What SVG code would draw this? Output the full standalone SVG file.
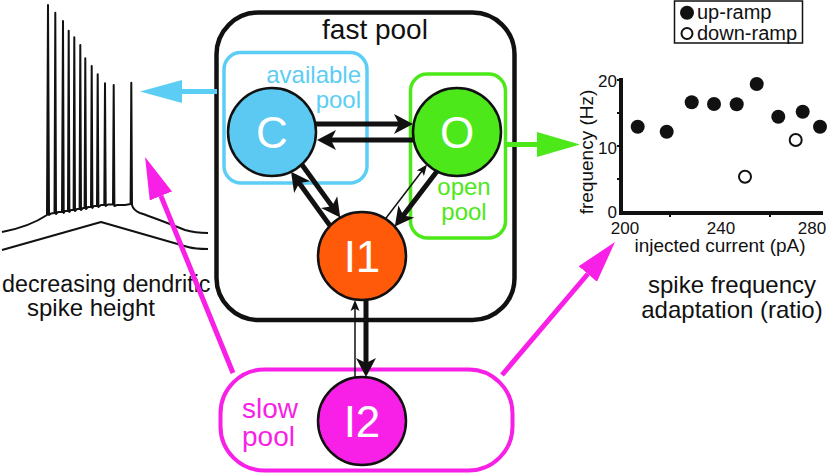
<svg xmlns="http://www.w3.org/2000/svg" width="827" height="475" viewBox="0 0 827 475">
<style>
text{font-family:"Liberation Sans",Arial,sans-serif}
.node{stroke:#111;stroke-width:2.5}
.nl{fill:#fff;font-size:44px;text-anchor:middle}
.thick{stroke:#111;stroke-width:5;fill:none}
.thin{stroke:#111;stroke-width:1.5;fill:none}
.trace{stroke:#111;stroke-width:2;fill:none;stroke-linejoin:round}
.lbl{fill:#111;font-size:24px}
.ax{fill:#111;font-size:17px}
.mag{stroke:#F81FE6}
</style>
<defs>
<marker id="ah" markerUnits="userSpaceOnUse" markerWidth="24" markerHeight="24" viewBox="-10 -12 24 24" refX="0" refY="0" orient="auto"><path d="M12,0 L-7,-10 L-2,0 L-7,10 Z" fill="#111"/></marker>
<marker id="ahs" markerUnits="userSpaceOnUse" markerWidth="14" markerHeight="12" viewBox="-6 -6 14 12" refX="0" refY="0" orient="auto"><path d="M7,0 L-4,-4.5 L-1.5,0 L-4,4.5 Z" fill="#111"/></marker>
<marker id="bigC" markerUnits="userSpaceOnUse" markerWidth="44" markerHeight="26" viewBox="0 -13 44 26" refX="0" refY="0" orient="auto"><path d="M42,0 L0,-11.5 L0,11.5 Z" fill="#5CCDF4"/></marker>
<marker id="bigG" markerUnits="userSpaceOnUse" markerWidth="44" markerHeight="28" viewBox="0 -14 44 28" refX="0" refY="0" orient="auto"><path d="M43,0 L0,-12.5 L0,12.5 Z" fill="#4CE81A"/></marker>
<marker id="bigM" markerUnits="userSpaceOnUse" markerWidth="44" markerHeight="28" viewBox="0 -14 44 28" refX="0" refY="0" orient="auto"><path d="M42,0 L0,-12 L0,12 Z" fill="#F81FE6"/></marker>
</defs>

<!-- voltage traces -->
<g id="traces">
<path class="trace" d="M2,232 C18,229 35,223 47,215 L48,5 L49,215 L51,213.5 L54.5,213 L55.3,12.7 L56,214 L58,212 L62,212 L63,21 L63.7,213 L65,211 L68,211 L68.7,30.7 L69.4,212 L71,210 L73.6,210 L74.3,37.3 L75,211 L77,209 L79.6,209 L80.3,45 L81,210 L83,208 L84.6,208 L85.3,58.3 L86,209 L88,207 L91,207 L91.7,66 L92.4,208 L94,206 L97,206 L97.7,74.3 L98.4,207 L101,205 L104.3,205 L105,83.3 L105.7,206 L108,204.5 L113,204.5 L113.7,85 L114.4,206 L117,205 L125,205 L130.6,204 L131.3,82.7 L132,205 C133,209 135,211 140,213 C155,218 170,224 185,230 C195,233 200,233 208,233"/>
<path class="trace" d="M2,250 L101,222 L188,247 C195,249 200,249 208,249"/>
</g>
<text x="2" y="292" font-size="23.3" fill="#111">decreasing dendritic</text>
<text class="lbl" x="91" y="316" text-anchor="middle">spike height</text>

<!-- fast pool -->
<g id="fastpool">
<rect x="216.5" y="12.5" width="298" height="307.5" rx="42" fill="none" stroke="#111" stroke-width="4.5"/>
<text x="375" y="39" font-size="28" text-anchor="middle" fill="#111">fast pool</text>
</g>
<g id="availablepool">
<rect x="224" y="52.5" width="143" height="130.5" rx="17" fill="none" stroke="#5CCDF4" stroke-width="3.5"/>
<text x="361" y="83" font-size="24" text-anchor="end" fill="#5CCDF4">available</text>
<text x="361" y="108" font-size="24" text-anchor="end" fill="#5CCDF4">pool</text>
</g>
<g id="openpool">
<rect x="410.5" y="74" width="95" height="164" rx="17" fill="none" stroke="#4CE81A" stroke-width="3.5"/>
<text x="464" y="195" font-size="24" text-anchor="middle" fill="#4CE81A">open</text>
<text x="464" y="220" font-size="24" text-anchor="middle" fill="#4CE81A">pool</text>
</g>
<g id="slowpool">
<rect x="220.5" y="369.5" width="292" height="101" rx="44" fill="none" stroke="#F81FE6" stroke-width="4"/>
<text x="242" y="418" font-size="28" fill="#F81FE6">slow</text>
<text x="242" y="446" font-size="28" fill="#F81FE6">pool</text>
</g>

<!-- connectors -->
<g id="connectors">
<line class="thick" x1="316" y1="124" x2="401" y2="124" marker-end="url(#ah)"/>
<line class="thick" x1="413.5" y1="140" x2="329" y2="140" marker-end="url(#ah)"/>
<line class="thick" x1="301.8" y1="164.5" x2="333.2" y2="207.9" marker-end="url(#ah)"/>
<line class="thick" x1="330" y1="225.6" x2="298.1" y2="181.5" marker-end="url(#ah)"/>
<line class="thick" x1="437" y1="171.3" x2="402.1" y2="217" marker-end="url(#ah)"/>
<line class="thin" x1="385.5" y1="218.8" x2="422.8" y2="170" marker-end="url(#ahs)"/>
<line class="thin" x1="355" y1="377.6" x2="355" y2="307" marker-end="url(#ahs)"/>
<line class="thick" x1="366" y1="299.8" x2="366" y2="365" marker-end="url(#ah)"/>
<line x1="217" y1="91.5" x2="182" y2="91.5" stroke="#5CCDF4" stroke-width="5" marker-end="url(#bigC)"/>
<line x1="507" y1="144.5" x2="537" y2="144.5" stroke="#4CE81A" stroke-width="5" marker-end="url(#bigG)"/>
<line class="mag" x1="233" y1="373" x2="160.9" y2="195.9" stroke-width="5" marker-end="url(#bigM)"/>
<line class="mag" x1="502" y1="375" x2="587.8" y2="274" stroke-width="5" marker-end="url(#bigM)"/>
</g>

<!-- nodes -->
<g id="node-C">
<circle class="node" cx="272" cy="132" r="44" fill="#5BC9F1"/>
<text class="nl" x="272" y="148">C</text>
</g>
<g id="node-O">
<circle class="node" cx="457" cy="132" r="44" fill="#4CE81A"/>
<text class="nl" x="457" y="148">O</text>
</g>
<g id="node-I1">
<circle class="node" cx="362" cy="256" r="44" fill="#FF5A0A"/>
<text class="nl" x="362" y="272">I1</text>
</g>
<g id="node-I2">
<circle class="node" cx="362" cy="421" r="44" fill="#F81FE6"/>
<text class="nl" x="362" y="437">I2</text>
</g>

<!-- chart -->
<g id="chart">
<rect x="674.5" y="1" width="128" height="42" fill="none" stroke="#111" stroke-width="1.5"/>
<circle cx="687" cy="12.7" r="7" fill="#111"/>
<text x="697" y="19" font-size="20" fill="#111">up-ramp</text>
<circle cx="687" cy="33.5" r="5.5" fill="#fff" stroke="#111" stroke-width="2"/>
<text x="697" y="40" font-size="20" fill="#111">down-ramp</text>
<path d="M621,78 V213 H823" fill="none" stroke="#111" stroke-width="4"/>
<path d="M617,80 H621 M617,113 H621 M617,146 H621 M617,179 H621 M670,213 V217 M770,213 V217" stroke="#111" stroke-width="2"/>
<text class="ax" x="617" y="87" text-anchor="end">20</text>
<text class="ax" x="617" y="154" text-anchor="end">10</text>
<text class="ax" x="617" y="218" text-anchor="end">0</text>
<text class="ax" x="625" y="234" text-anchor="middle">200</text>
<text class="ax" x="721" y="234" text-anchor="middle">240</text>
<text class="ax" x="812" y="234" text-anchor="middle">280</text>
<text x="720" y="252" font-size="19" text-anchor="middle" fill="#111">injected current (pA)</text>
<text transform="translate(593,152) rotate(-90)" font-size="19" text-anchor="middle" fill="#111">frequency (Hz)</text>
<g fill="#111">
<circle cx="637.7" cy="126.7" r="7"/>
<circle cx="666.7" cy="131.7" r="7"/>
<circle cx="691.7" cy="102.3" r="7"/>
<circle cx="714" cy="104" r="7"/>
<circle cx="736.7" cy="104.3" r="7"/>
<circle cx="756.7" cy="84" r="7"/>
<circle cx="778.3" cy="116.7" r="7"/>
<circle cx="802.7" cy="111.7" r="7"/>
<circle cx="820" cy="126.7" r="7"/>
</g>
<circle cx="745" cy="176.7" r="6" fill="#fff" stroke="#111" stroke-width="2"/>
<circle cx="795.7" cy="140" r="6" fill="#fff" stroke="#111" stroke-width="2"/>
</g>
<text class="lbl" x="732" y="293" text-anchor="middle">spike frequency</text>
<text class="lbl" x="732" y="318" text-anchor="middle">adaptation (ratio)</text>
</svg>
